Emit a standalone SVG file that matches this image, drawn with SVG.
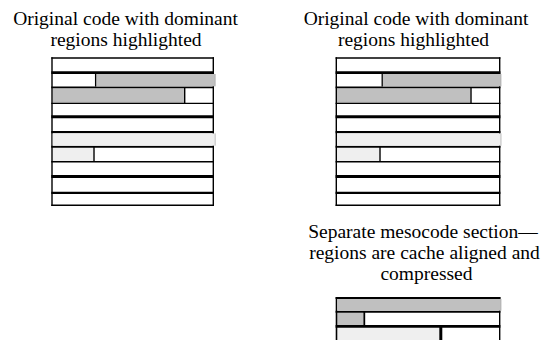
<svg xmlns="http://www.w3.org/2000/svg" width="545" height="340" viewBox="0 0 545 340">
  <style>
    .cap { font-size: 19.5px; fill: #000; text-anchor: middle; }
    .rule { stroke: #000; fill: none; }
    .dark { fill: #c0c0c0; }
    .light { fill: #efefef; }
    .rim { stroke: #a8a8a8; stroke-width: 0.7; }
  </style>
  <rect width="545" height="340" fill="#fff"/>

  <!-- Captions -->
  <g class="cap" font-family="'Liberation Serif', 'Times New Roman', Times, serif">
    <g id="caption-left">
      <text x="125.5" y="25">Original code with dominant</text>
      <text x="126" y="46">regions highlighted</text>
    </g>
    <g id="caption-right">
      <text x="416" y="25">Original code with dominant</text>
      <text x="413.5" y="46">regions highlighted</text>
    </g>
    <g id="caption-mesocode">
      <text x="423" y="238">Separate mesocode section—</text>
      <text x="424.5" y="259">regions are cache aligned and</text>
      <text x="426.5" y="280">compressed</text>
    </g>
  </g>

  <!-- Original code layout, left copy -->
  <g id="code-left">
    <rect class="dark" x="52.7" y="88.4" width="131.6" height="14"/>
    <line class="rim" x1="52.7" y1="102.3" x2="184.3" y2="102.3"/>
    <rect class="light" x="52.7" y="147.7" width="40.6" height="13.3"/>
    <g class="rule">
      <line x1="51.3" x2="214" y1="58" y2="58" stroke-width="1.4"/>
      <line x1="51.3" x2="214" y1="72.7" y2="72.7" stroke-width="2.7"/>
      <line x1="51.3" x2="214" y1="87.3" y2="87.3" stroke-width="1.8"/>
      <line x1="51.3" x2="214" y1="103.4" y2="103.4" stroke-width="1.4"/>
      <line x1="51.3" x2="214" y1="116.8" y2="116.8" stroke-width="3"/>
      <line x1="51.3" x2="214" y1="132.2" y2="132.2" stroke-width="2.3"/>
      <line x1="51.3" x2="214" y1="146.7" y2="146.7" stroke-width="2"/>
      <line x1="51.3" x2="214" y1="161.7" y2="161.7" stroke-width="1.4"/>
      <line x1="51.3" x2="214" y1="176.5" y2="176.5" stroke-width="3"/>
      <line x1="51.3" x2="214" y1="192.8" y2="192.8" stroke-width="2.3"/>
      <line x1="51.3" x2="214" y1="205.3" y2="205.3" stroke-width="1.4"/>
      <line x1="52" x2="52" y1="57.3" y2="206" stroke-width="1.4"/>
      <line x1="213.3" x2="213.3" y1="57.3" y2="206" stroke-width="1.4"/>
      <line x1="184.7" x2="184.7" y1="87.3" y2="103.4" stroke-width="1.4"/>
      <line x1="94" x2="94" y1="146.7" y2="161.7" stroke-width="1.4"/>
    </g>
    <rect class="dark" x="96.2" y="74" width="119" height="12.3"/>
    <line class="rim" x1="215.2" y1="74" x2="215.2" y2="86.3"/>
    <line class="rule" x1="95.6" y1="73.5" x2="95.6" y2="86.6" stroke-width="1.3"/>
    <rect class="light" x="52.7" y="133.4" width="162.5" height="12.3"/>
    <line class="rim" x1="215.2" y1="133.4" x2="215.2" y2="145.7"/>
  </g>

  <!-- Original code layout, right copy -->
  <g id="code-right">
    <rect class="dark" x="337" y="88.4" width="133.3" height="14"/>
    <line class="rim" x1="337" y1="102.3" x2="470.3" y2="102.3"/>
    <rect class="light" x="337" y="147.7" width="42.3" height="13.3"/>
    <g class="rule">
      <line x1="335.6" x2="500.4" y1="58" y2="58" stroke-width="1.4"/>
      <line x1="335.6" x2="500.4" y1="72.7" y2="72.7" stroke-width="2.7"/>
      <line x1="335.6" x2="500.4" y1="87.3" y2="87.3" stroke-width="1.8"/>
      <line x1="335.6" x2="500.4" y1="103.4" y2="103.4" stroke-width="1.4"/>
      <line x1="335.6" x2="500.4" y1="116.8" y2="116.8" stroke-width="3"/>
      <line x1="335.6" x2="500.4" y1="132.2" y2="132.2" stroke-width="2.3"/>
      <line x1="335.6" x2="500.4" y1="146.7" y2="146.7" stroke-width="2"/>
      <line x1="335.6" x2="500.4" y1="161.7" y2="161.7" stroke-width="1.4"/>
      <line x1="335.6" x2="500.4" y1="176.5" y2="176.5" stroke-width="3"/>
      <line x1="335.6" x2="500.4" y1="192.8" y2="192.8" stroke-width="2.3"/>
      <line x1="335.6" x2="500.4" y1="205.3" y2="205.3" stroke-width="1.4"/>
      <line x1="336.3" x2="336.3" y1="57.3" y2="206" stroke-width="1.4"/>
      <line x1="499.7" x2="499.7" y1="57.3" y2="206" stroke-width="1.4"/>
      <line x1="471" x2="471" y1="87.3" y2="103.4" stroke-width="1.4"/>
      <line x1="380" x2="380" y1="146.7" y2="161.7" stroke-width="1.4"/>
    </g>
    <rect class="dark" x="382.8" y="74" width="118.2" height="12.3"/>
    <line class="rim" x1="501" y1="74" x2="501" y2="86.3"/>
    <line class="rule" x1="382.2" y1="73.5" x2="382.2" y2="86.6" stroke-width="1.3"/>
    <rect class="light" x="337" y="133.4" width="164" height="12.3"/>
    <line class="rim" x1="501" y1="133.4" x2="501" y2="145.7"/>
  </g>

  <!-- Mesocode section -->
  <g id="mesocode">
    <rect class="dark" x="337.2" y="312.7" width="26.3" height="12.6"/>
    <rect class="light" x="337.2" y="327.7" width="102.4" height="13"/>
    <g class="rule">
      <line x1="335.6" x2="500.4" y1="298" y2="298" stroke-width="1.8"/>
      <line x1="335.6" x2="500.4" y1="311.7" y2="311.7" stroke-width="2"/>
      <line x1="335.6" x2="500.4" y1="326.4" y2="326.4" stroke-width="2.7"/>
      <line x1="336.5" x2="336.5" y1="297.1" y2="340" stroke-width="1.6"/>
      <line x1="499.7" x2="499.7" y1="297.1" y2="340" stroke-width="1.4"/>
      <line x1="364.3" x2="364.3" y1="311.7" y2="326.4" stroke-width="1.8"/>
      <line x1="440.8" x2="440.8" y1="326.4" y2="340" stroke-width="3"/>
    </g>
    <rect class="dark" x="337.2" y="299" width="163.8" height="11.7"/>
    <line class="rim" x1="501" y1="299" x2="501" y2="310.7"/>
  </g>
</svg>
